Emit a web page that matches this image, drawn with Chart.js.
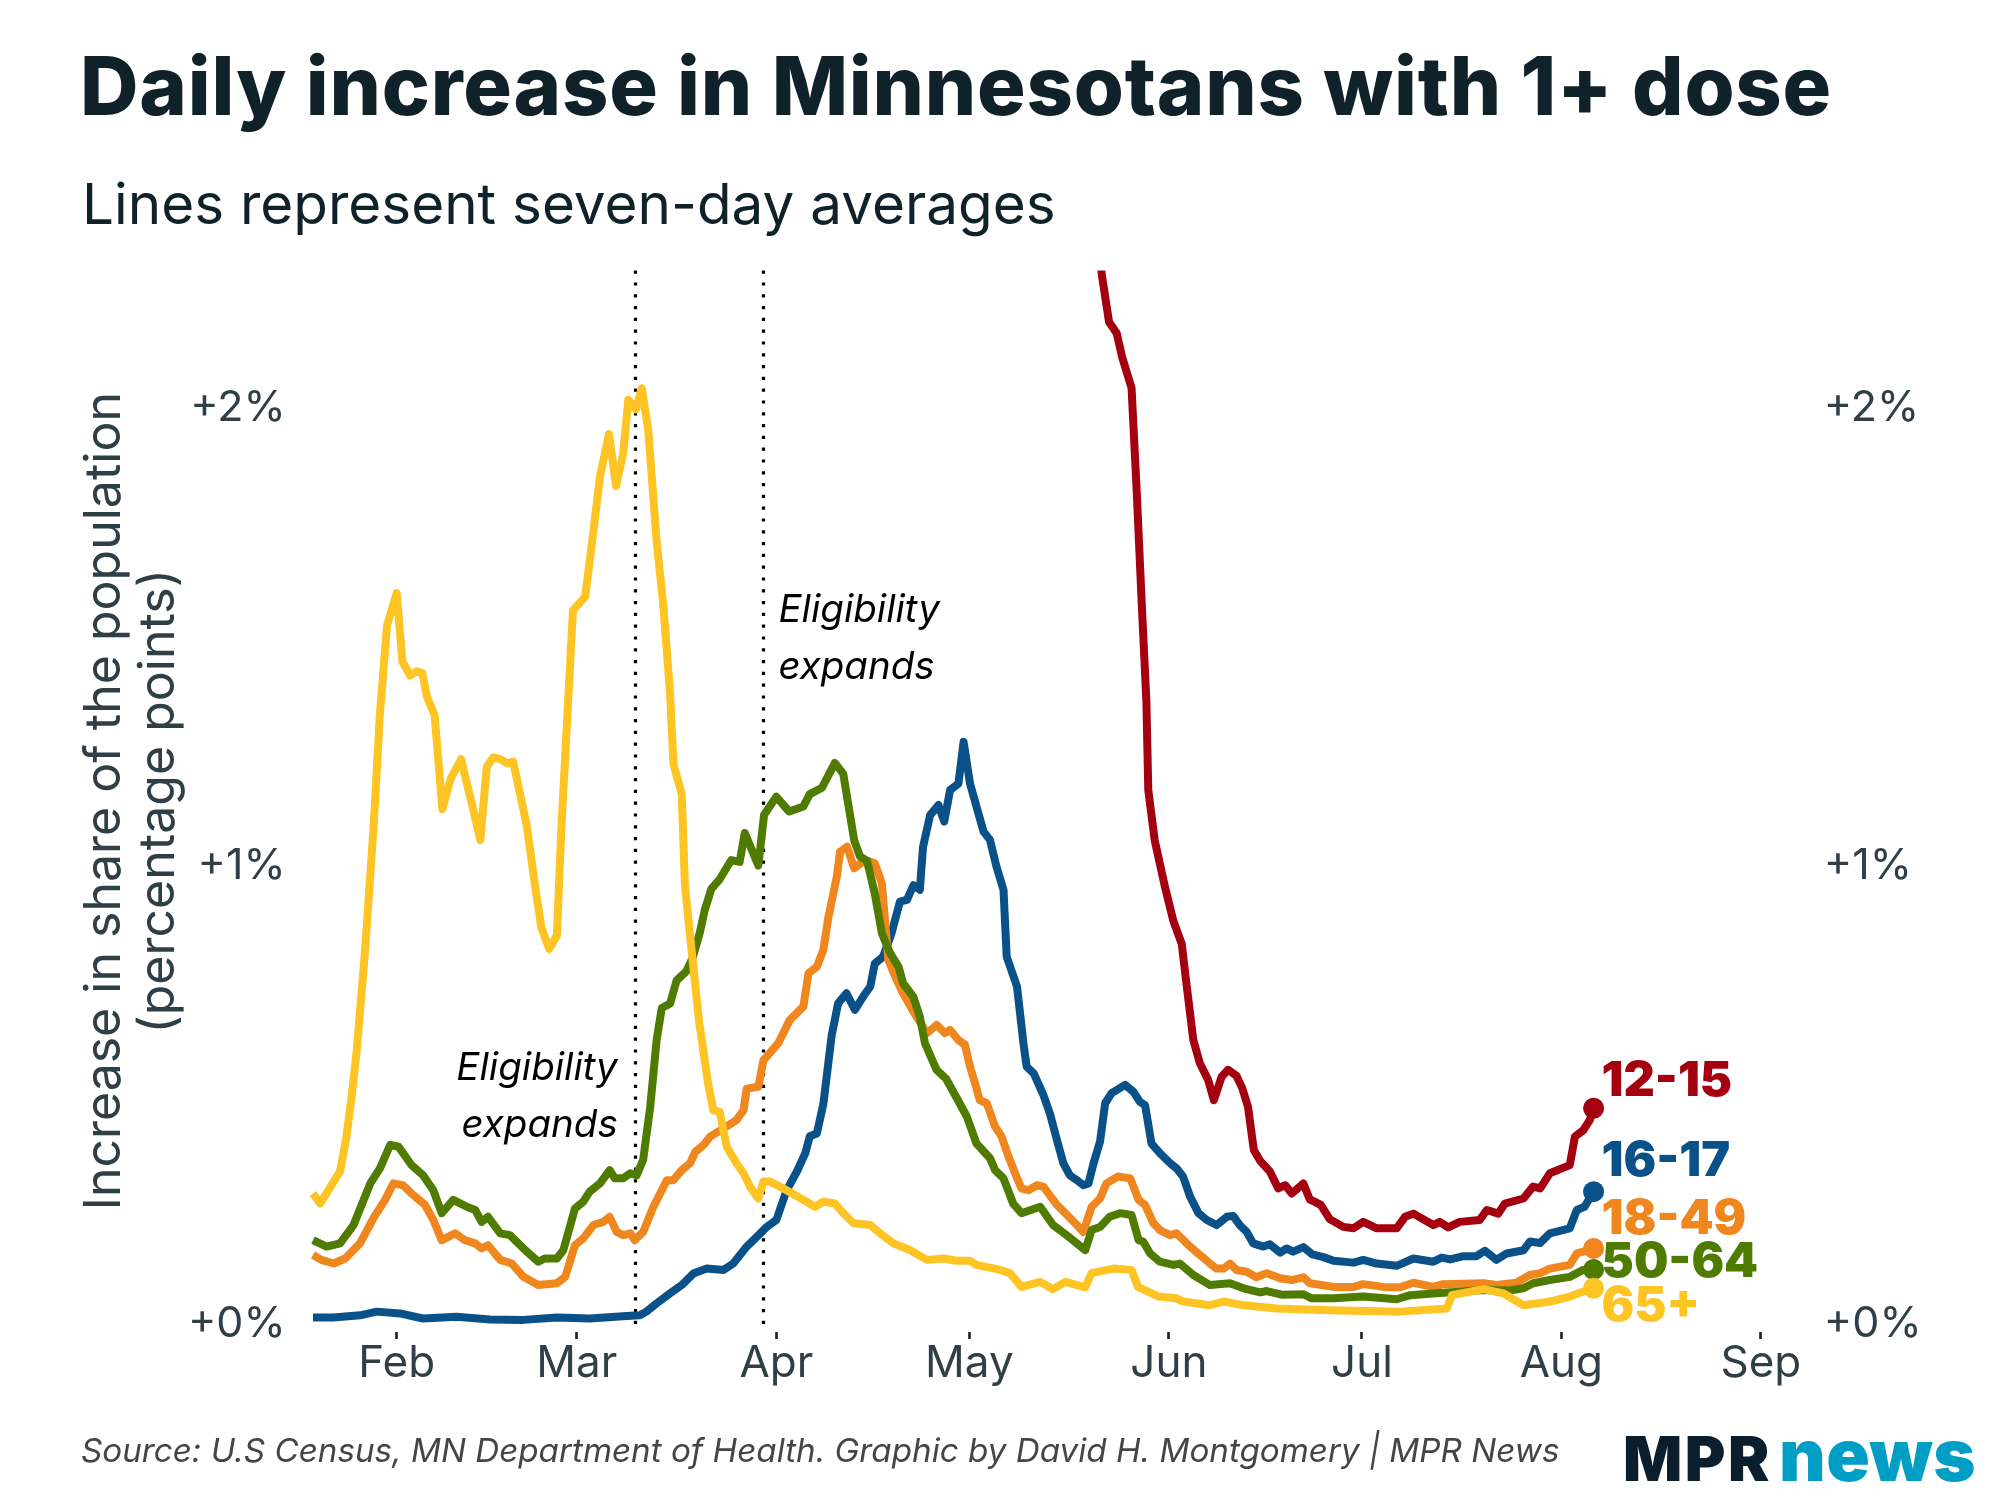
<!DOCTYPE html>
<html>
<head>
<meta charset="utf-8">
<script src="https://cdn.jsdelivr.net/npm/chart.js@4/dist/chart.umd.min.js"></script>
<style>
html,body{margin:0;padding:0;background:#fff;}
#wrap{position:relative;width:2000px;height:1500px;overflow:hidden;background:#fff;}
#c{position:absolute;left:0;top:0;width:2000px;height:1500px;}
.t{position:absolute;white-space:nowrap;line-height:1;font-family:Inter,'Noto Sans',sans-serif;}
#title{left:80px;top:46px;font-size:81px;font-weight:800;letter-spacing:0.8px;color:#0f2129;}
#subtitle{left:82px;top:176px;font-size:56.6px;font-weight:400;color:#0f2129;}
#source{left:81px;top:1434px;font-size:33.2px;font-style:italic;color:#454545;}
#logo{left:1623px;top:1419px;font-size:62px;font-weight:900;}
#logo .a{color:#0b1e2d;letter-spacing:2.5px;}
#logo .b{color:#009ec5;font-size:72px;letter-spacing:0.5px;margin-left:7px;}
</style>
</head>
<body>
<div id="wrap">
<canvas id="c" width="2000" height="1500"></canvas>
<div class="t" id="title">Daily increase in Minnesotans with 1+ dose</div>
<div class="t" id="subtitle">Lines represent seven-day averages</div>
<div class="t" id="source">Source: U.S Census, MN Department of Health. Graphic by David H. Montgomery | MPR News</div>
<div class="t" id="logo"><span class="a">MPR</span><span class="b">news</span></div>
</div>
<script>
// Day numbers count from Jan 1, 2021 (= 0). Values are percentage points.
const seriesLabels = ['12-15', '16-17', '18-49', '50-64', '65+'];
const seriesColors = ['#a5000f', '#0b5189', '#f0861e', '#4f7c00', '#fec423'];

const monthTickDays = [31, 59, 90, 120, 151, 181, 212, 243];
const monthTickLabels = ['Feb', 'Mar', 'Apr', 'May', 'Jun', 'Jul', 'Aug', 'Sep'];
const yTickValues = [0, 1, 2];
const yTickLabels = ['+0%', '+1%', '+2%'];

const eligibilityDays = [68, 88];
const annotationTexts = [['Eligibility', 'expands'], ['Eligibility', 'expands']];
const annotationValues = [0.533, 1.533];
const annotationSides = ['left', 'right'];

const yTitleLines = ['Increase in share of the population', '(percentage points)'];

const days12 = [140.0,140.6,141.7,142.9,143.7,145.2,146.0,146.8,147.5,147.8,148.8,150.4,151.7,153.0,153.8,154.8,155.8,157.1,158.0,159.2,160.2,161.5,162.4,163.3,164.2,165.2,166.7,168.0,169.1,170.1,171.9,172.9,174.6,176.0,178.1,179.7,181.2,183.3,186.4,187.7,189.0,192.1,193.1,194.4,196.2,199.3,200.4,202.2,203.2,206.1,207.6,208.7,210.2,213.3,214.1,215.4,216.4,217.0];
const pct12 = [2.36,2.289,2.188,2.163,2.113,2.044,1.819,1.568,1.362,1.166,1.056,0.954,0.880,0.830,0.735,0.620,0.570,0.533,0.489,0.540,0.555,0.542,0.515,0.474,0.380,0.356,0.333,0.296,0.303,0.285,0.307,0.272,0.260,0.229,0.212,0.209,0.223,0.209,0.209,0.234,0.241,0.216,0.223,0.211,0.223,0.227,0.249,0.241,0.263,0.274,0.300,0.296,0.329,0.347,0.409,0.423,0.445,0.471];

const days16 = [18.0,21.2,25.3,27.9,31.5,35.1,40.3,45.5,50.7,55.9,61.0,66.2,68.8,69.8,71.4,73.5,75.3,77.1,79.2,81.8,83.3,85.4,87.0,88.5,90.0,91.6,93.2,94.5,95.2,96.3,97.3,98.6,99.6,100.9,102.2,103.5,104.6,105.3,106.6,107.9,109.2,110.3,111.3,112.3,112.8,113.9,115.2,116.1,117.0,118.3,119.1,120.1,121.4,122.2,123.2,124.2,125.3,125.8,127.4,128.4,128.9,130.0,131.5,132.5,133.6,134.6,135.6,136.7,137.7,138.5,139.3,140.3,141.1,142.1,144.2,145.5,146.5,147.3,148.3,149.6,151.2,152.2,153.2,154.3,155.6,156.9,158.4,160.0,161.0,162.0,163.1,164.1,165.7,166.7,168.3,169.3,170.3,171.9,173.3,175.0,176.6,179.7,181.2,183.3,186.4,189.0,192.1,193.4,194.7,196.8,198.8,200.1,201.9,203.5,206.1,207.1,208.7,210.2,213.3,214.4,215.6,217.0];
const pct16 = [0.014,0.014,0.019,0.027,0.023,0.012,0.016,0.010,0.009,0.014,0.012,0.017,0.019,0.027,0.045,0.067,0.085,0.110,0.121,0.118,0.132,0.169,0.191,0.212,0.227,0.292,0.333,0.373,0.410,0.416,0.480,0.630,0.700,0.722,0.686,0.715,0.737,0.787,0.802,0.853,0.922,0.926,0.958,0.948,1.042,1.111,1.133,1.097,1.166,1.180,1.271,1.180,1.115,1.075,1.057,0.999,0.948,0.802,0.737,0.613,0.562,0.547,0.500,0.460,0.402,0.351,0.325,0.314,0.303,0.307,0.351,0.398,0.482,0.504,0.522,0.507,0.485,0.478,0.394,0.373,0.351,0.340,0.322,0.278,0.242,0.227,0.216,0.234,0.236,0.216,0.201,0.176,0.169,0.174,0.156,0.165,0.158,0.168,0.152,0.146,0.138,0.134,0.140,0.132,0.127,0.143,0.136,0.145,0.141,0.148,0.148,0.160,0.140,0.154,0.161,0.180,0.177,0.198,0.209,0.249,0.256,0.289];

const days18 = [18.0,19.3,21.2,23.0,25.3,27.4,29.2,30.5,32.0,33.3,35.4,36.7,38.0,40.1,41.6,43.2,44.2,45.2,47.1,48.9,50.7,53.0,55.9,57.2,58.7,60.0,61.6,63.1,64.1,65.2,66.2,67.3,68.0,69.3,70.9,73.0,74.0,75.3,76.6,77.4,78.7,79.7,81.8,83.8,84.9,85.4,87.2,88.0,88.5,90.3,92.1,94.2,95.0,96.3,97.3,98.1,99.4,99.9,101.0,102.1,103.8,105.3,106.4,107.4,108.7,109.7,111.3,113.4,114.9,116.2,117.0,118.3,119.3,120.1,120.9,121.6,122.7,124.0,125.0,126.1,127.1,128.1,129.2,130.5,131.5,133.6,134.9,136.7,137.7,139.0,140.3,141.3,143.1,145.0,146.3,147.3,148.6,149.6,151.2,152.2,154.3,157.4,158.4,159.5,160.5,161.5,163.1,164.6,166.2,168.3,170.1,171.9,172.9,176.6,179.7,181.2,184.3,186.9,189.0,192.1,193.6,199.9,201.9,205.0,207.1,208.7,210.2,213.3,214.4,215.4,217.0];
const pct18 = [0.151,0.140,0.132,0.143,0.176,0.231,0.271,0.307,0.303,0.285,0.260,0.227,0.183,0.198,0.183,0.176,0.165,0.172,0.140,0.132,0.103,0.085,0.089,0.103,0.172,0.187,0.216,0.223,0.234,0.201,0.194,0.198,0.183,0.201,0.256,0.314,0.314,0.336,0.351,0.376,0.391,0.409,0.427,0.445,0.467,0.514,0.518,0.576,0.584,0.613,0.664,0.693,0.766,0.780,0.817,0.889,0.977,1.031,1.042,0.995,1.013,1.006,0.962,0.795,0.751,0.722,0.682,0.635,0.653,0.635,0.642,0.620,0.610,0.562,0.525,0.489,0.482,0.431,0.409,0.365,0.329,0.296,0.292,0.303,0.300,0.260,0.242,0.216,0.201,0.256,0.274,0.307,0.322,0.318,0.271,0.260,0.220,0.205,0.194,0.198,0.169,0.132,0.121,0.121,0.132,0.118,0.114,0.102,0.111,0.100,0.096,0.102,0.089,0.081,0.081,0.087,0.081,0.080,0.090,0.081,0.087,0.089,0.085,0.090,0.107,0.111,0.121,0.129,0.154,0.158,0.165];

const days50 = [18.0,20.1,22.2,24.3,26.9,28.4,30.0,31.3,33.3,35.1,36.7,38.0,39.8,41.9,43.2,44.2,45.2,47.1,48.6,50.7,53.0,54.0,55.9,56.9,58.7,60.0,61.0,62.6,64.1,64.9,66.2,67.3,68.3,69.3,70.4,71.4,72.2,73.5,74.5,76.0,77.0,78.1,78.9,79.9,81.2,83.0,84.3,85.1,87.2,88.1,90.0,92.0,94.2,95.2,97.1,99.1,100.4,102.1,103.0,104.1,105.3,106.4,107.7,109.0,109.7,111.3,112.3,113.1,114.9,116.4,118.2,119.6,121.1,123.2,124.0,125.3,126.8,128.1,131.0,133.0,135.1,136.7,138.0,139.0,140.3,141.8,143.4,145.2,146.3,147.0,148.1,149.6,151.7,152.7,154.8,157.4,160.5,162.6,165.2,166.2,168.5,171.9,173.2,176.6,181.2,186.4,188.5,192.6,199.9,204.0,206.1,207.6,210.2,213.3,214.4,215.4,217.0];
const pct50 = [0.183,0.169,0.176,0.216,0.307,0.340,0.391,0.387,0.347,0.325,0.292,0.242,0.271,0.256,0.249,0.223,0.234,0.198,0.194,0.165,0.136,0.143,0.143,0.161,0.252,0.267,0.289,0.307,0.336,0.318,0.318,0.329,0.325,0.358,0.474,0.620,0.690,0.700,0.750,0.770,0.800,0.854,0.905,0.950,0.971,1.013,1.009,1.072,1.001,1.112,1.151,1.119,1.130,1.157,1.171,1.225,1.201,1.056,1.021,1.011,0.940,0.853,0.809,0.780,0.744,0.714,0.671,0.613,0.555,0.535,0.489,0.453,0.394,0.362,0.336,0.318,0.263,0.242,0.256,0.216,0.194,0.176,0.161,0.205,0.212,0.234,0.242,0.238,0.183,0.180,0.154,0.136,0.129,0.132,0.107,0.085,0.089,0.078,0.069,0.072,0.064,0.065,0.056,0.056,0.060,0.054,0.063,0.067,0.074,0.073,0.078,0.089,0.096,0.103,0.111,0.118,0.119];

const days65 = [18.0,19.1,22.2,23.2,24.0,24.8,26.1,27.4,28.4,29.5,31.0,31.9,33.1,34.1,35.0,35.7,36.9,38.1,39.4,41.0,42.4,44.0,45.0,46.0,47.0,48.2,49.1,51.2,52.5,53.5,54.7,55.9,56.6,57.7,58.4,60.3,61.3,62.6,64.0,65.1,66.2,67.0,68.2,69.1,70.1,71.4,72.4,73.5,74.0,75.3,75.8,76.8,78.0,79.4,80.2,81.2,82.3,83.8,84.9,85.9,87.2,88.0,89.0,91.1,94.7,96.0,97.3,99.1,100.4,102.0,104.6,106.1,108.2,110.8,113.4,116.0,118.0,120.1,121.1,124.8,126.3,128.1,131.0,133.0,134.9,138.0,139.0,142.4,145.2,146.2,149.4,152.2,153.2,157.4,159.5,162.6,167.8,176.0,186.9,194.2,195.0,199.9,203.0,206.1,210.2,213.3,215.4,217.0];
const pct65 = [0.285,0.263,0.333,0.409,0.496,0.598,0.817,1.082,1.333,1.525,1.596,1.446,1.416,1.425,1.421,1.370,1.329,1.124,1.191,1.233,1.153,1.057,1.216,1.237,1.234,1.224,1.228,1.090,0.957,0.865,0.819,0.848,1.082,1.375,1.558,1.588,1.700,1.851,1.943,1.830,1.901,2.018,1.997,2.043,1.951,1.709,1.575,1.375,1.224,1.157,0.957,0.820,0.660,0.525,0.467,0.463,0.387,0.351,0.329,0.300,0.274,0.311,0.311,0.296,0.267,0.256,0.267,0.263,0.242,0.220,0.216,0.198,0.176,0.161,0.140,0.143,0.138,0.138,0.129,0.118,0.111,0.081,0.092,0.076,0.092,0.080,0.111,0.121,0.118,0.081,0.060,0.056,0.049,0.041,0.049,0.041,0.034,0.030,0.027,0.034,0.063,0.076,0.067,0.041,0.049,0.060,0.071,0.078];

const allDays = [days12, days16, days18, days50, days65];
const allPct = [pct12, pct16, pct18, pct50, pct65];
const drawOrder = [4, 3, 2, 1, 0];   // 65+ drawn on top
const labelNudge = [-12, -16, -14, 8, 33];

const datasets = seriesLabels.map((lab, i) => ({
  label: lab,
  data: allDays[i].map((d, j) => ({x: d, y: allPct[i][j]})),
  borderColor: seriesColors[i],
  backgroundColor: seriesColors[i],
  borderWidth: 8,
  tension: 0,
  fill: false,
  borderJoinStyle: 'round',
  borderCapStyle: 'butt',
  order: drawOrder[i],
  pointRadius: ctx => ctx.dataIndex === allDays[i].length - 1 ? 10.5 : 0,
  pointBackgroundColor: seriesColors[i],
  pointBorderWidth: 0,
  pointHoverRadius: 0
}));

const AXIS_COLOR = '#2f3f45';

const annotate = {
  id: 'annotate',
  beforeDatasetsDraw(chart) {
    const {ctx, chartArea, scales: {x}} = chart;
    ctx.save();
    ctx.strokeStyle = '#000';
    ctx.lineWidth = 3.2;
    ctx.setLineDash([3.2, 8.6]);
    eligibilityDays.forEach(d => {
      const px = Math.round(x.getPixelForValue(d)) + 0.5;
      ctx.beginPath();
      ctx.moveTo(px, chartArea.top);
      ctx.lineTo(px, chartArea.bottom);
      ctx.stroke();
    });
    ctx.restore();
  },
  afterDraw(chart) {
    const {ctx, chartArea, scales: {x, y}} = chart;
    ctx.save();
    // y axis title
    ctx.fillStyle = AXIS_COLOR;
    ctx.font = '400 50px Inter';
    ctx.textAlign = 'center';
    ctx.textBaseline = 'alphabetic';
    const cy = (chartArea.top + chartArea.bottom) / 2;
    yTitleLines.forEach((t, i) => {
      ctx.save();
      ctx.translate(120 + i * 54, cy);
      ctx.rotate(-Math.PI / 2);
      ctx.fillText(t, 0, 0);
      ctx.restore();
    });
    // eligibility annotations
    ctx.fillStyle = '#000';
    ctx.font = 'italic 400 38.5px Inter';
    eligibilityDays.forEach((d, k) => {
      const side = annotationSides[k];
      const px = x.getPixelForValue(d) + (side === 'left' ? -17 : 15);
      const py = y.getPixelForValue(annotationValues[k]);
      ctx.textAlign = side === 'left' ? 'right' : 'left';
      annotationTexts[k].forEach((t, i) => ctx.fillText(t, px, py + i * 57));
    });
    // series end labels
    ctx.font = '900 48.5px Inter';
    ctx.textAlign = 'left';
    ctx.textBaseline = 'alphabetic';
    seriesLabels.forEach((lab, i) => {
      const n = allDays[i].length - 1;
      const px = x.getPixelForValue(allDays[i][n]) + 8;
      const py = y.getPixelForValue(allPct[i][n]) + labelNudge[i];
      ctx.fillStyle = seriesColors[i];
      ctx.fillText(lab, px, py);
    });
    ctx.restore();
  }
};

const yScaleBase = (pos, pad, width) => ({
  type: 'linear',
  position: pos,
  min: -0.01747,
  max: 2.3,
  grid: {display: false, drawTicks: false},
  border: {display: false},
  ticks: {
    font: {family: 'Inter', size: 43, weight: 400},
    color: AXIS_COLOR,
    padding: pad,
    callback: (v, i) => yTickLabels[i]
  },
  afterBuildTicks: s => { s.ticks = yTickValues.map(v => ({value: v})); },
  afterFit: s => { s.width = width; }
});

new Chart(document.getElementById('c'), {
  type: 'line',
  data: {datasets},
  options: {
    responsive: false,
    devicePixelRatio: 1,
    animation: false,
    events: [],
    layout: {padding: {top: 270.6, left: 0, right: 0, bottom: 0}},
    plugins: {legend: {display: false}, tooltip: {enabled: false}},
    scales: {
      x: {
        type: 'linear',
        min: 15,
        max: 250.6,
        grid: {display: true, drawOnChartArea: false, drawTicks: true, tickLength: 7, tickWidth: 2.6, tickColor: '#1e1e1e'},
        border: {display: false},
        ticks: {
          font: {family: 'Inter', size: 44, weight: 400},
          color: AXIS_COLOR,
          padding: -2,
          maxRotation: 0,
          autoSkip: false,
          callback: (v, i) => monthTickLabels[i]
        },
        afterBuildTicks: s => { s.ticks = monthTickDays.map(v => ({value: v})); },
        afterFit: s => { s.height = 168; }
      },
      y: yScaleBase('left', 8, 293.7),
      yR: yScaleBase('right', 14, 190.2)
    }
  },
  plugins: [annotate]
});
</script>
</body>
</html>
